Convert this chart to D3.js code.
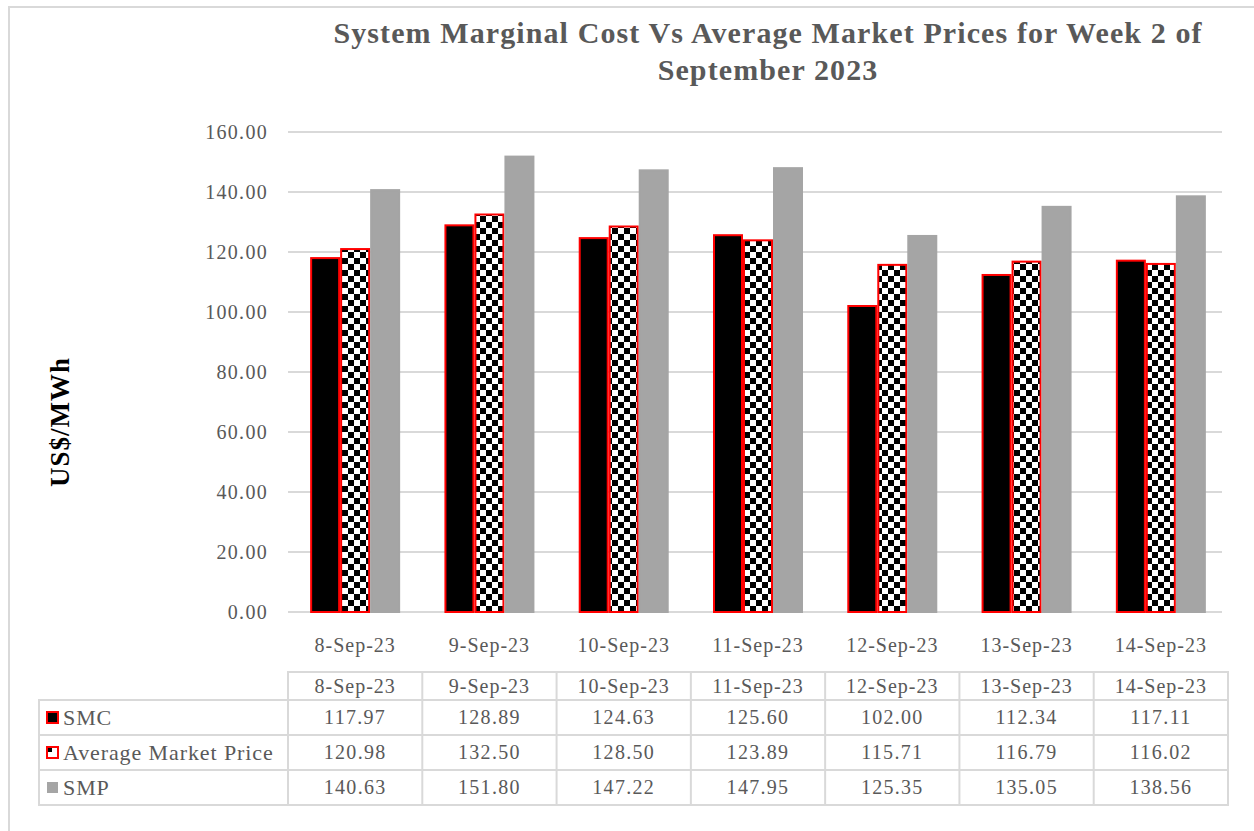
<!DOCTYPE html>
<html>
<head>
<meta charset="utf-8">
<script src="https://cdn.jsdelivr.net/npm/d3@7"></script>
<style>
  body { margin: 0; background: #fff; }
  text { font-family: "Liberation Serif", "DejaVu Serif", serif; }
</style>
</head>
<body>
<div id="container"></div>
<script>
// chart data
var dates = ["8-Sep-23", "9-Sep-23", "10-Sep-23", "11-Sep-23", "12-Sep-23", "13-Sep-23", "14-Sep-23"];
var seriesNames = ["SMC", "Average Market Price", "SMP"];
var smc = [117.97, 128.89, 124.63, 125.60, 102.00, 112.34, 117.11];
var amp = [120.98, 132.50, 128.50, 123.89, 115.71, 116.79, 116.02];
var smp = [140.63, 151.80, 147.22, 147.95, 125.35, 135.05, 138.56];
var yTicks = [0, 20, 40, 60, 80, 100, 120, 140, 160];

var svg_width = 1254
var svg_height = 831

var svg = d3.select("#container")
    .append("svg")
    .attr("width", svg_width)
    .attr("height", svg_height)

// pattern for average market price
var defs = svg.append("defs");
var pat = defs.append("pattern")
    .attr("id", "checker")
    .attr("width", 12).attr("height", 12)
    .attr("patternUnits", "userSpaceOnUse");
pat.append("rect").attr("width", 12).attr("height", 12).attr("fill", "#fff");
pat.append("rect").attr("width", 6).attr("height", 6).attr("fill", "#000");
pat.append("rect").attr("x", 6).attr("y", 6).attr("width", 6).attr("height", 6).attr("fill", "#000");

// outer frame
svg.append("path")
    .attr("d", "M9,831 V7 H1254")
    .attr("fill", "none")
    .attr("stroke", "#d9d9d9")
    .attr("stroke-width", 2);

// title
var title = svg.append("text")
    .attr("text-anchor", "middle")
    .attr("fill", "#595959")
    .attr("font-weight", "bold")
    .attr("font-size", 30)
    .attr("letter-spacing", 1.1);
title.append("tspan").attr("x", 768).attr("y", 43).text("System Marginal Cost Vs Average Market Prices for Week 2 of");
title.append("tspan").attr("x", 768).attr("y", 80).text("September 2023");

var left = 288, right = 1228, plotTop = 132, bottom = 612;

var x = d3.scaleBand()
    .domain(dates)
    .range([left, right]);

var xSub = d3.scaleBand()
    .domain(seriesNames)
    .range([0, 90]);

var y = d3.scaleLinear()
    .domain([0, 160])
    .range([bottom, plotTop]);

// gridlines
svg.append("g")
    .selectAll("line")
    .data(yTicks)
    .enter()
    .append("line")
    .attr("x1", left)
    .attr("x2", right - 6)
    .attr("y1", d => y(d))
    .attr("y2", d => y(d))
    .attr("stroke", "#d9d9d9")
    .attr("stroke-width", 2);

// y labels
var yAxis = d3.axisLeft(y).tickValues(yTicks).tickFormat(d3.format(".2f")).tickSize(0).tickPadding(20);
var gy = svg.append("g").attr("transform", "translate(" + left + ",0)").call(yAxis);
gy.select(".domain").remove();
gy.selectAll("text")
    .attr("font-size", 20)
    .attr("letter-spacing", 1.3)
    .attr("fill", "#595959")
    .attr("font-family", "Liberation Serif, serif");

// bars
var series = [
    { name: "SMC", values: smc, fill: "#000", stroke: "#ff0000" },
    { name: "Average Market Price", values: amp, fill: "url(#checker)", stroke: "#ff0000" },
    { name: "SMP", values: smp, fill: "#a5a5a5", stroke: "#a5a5a5" }
];

var barsG = svg.append("g");
series.forEach(function(s){
    barsG.selectAll(null)
        .data(s.values)
        .enter()
        .append("rect")
        .attr("x", (d, i) => x(dates[i]) + (x.bandwidth() - 90) / 2 + xSub(s.name) + 1)
        .attr("y", d => y(d))
        .attr("width", xSub.bandwidth() - 2)
        .attr("height", d => y(0) - y(d))
        .attr("fill", s.fill)
        .attr("stroke", s.stroke)
        .attr("stroke-width", 2);
});

// x labels
var xAxis = d3.axisBottom(x).tickSize(0).tickPadding(26);
var gx = svg.append("g").attr("transform", "translate(0," + bottom + ")").call(xAxis);
gx.select(".domain").remove();
gx.selectAll("text")
    .attr("font-size", 20)
    .attr("letter-spacing", 1)
    .attr("fill", "#595959")
    .attr("font-family", "Liberation Serif, serif");

// y title
svg.append("text")
    .attr("transform", "translate(69,422) rotate(-90)")
    .attr("text-anchor", "middle")
    .attr("font-size", 27)
    .attr("letter-spacing", 1)
    .attr("font-weight", "bold")
    .attr("fill", "#000")
    .text("US$/MWh");

// data table
var tableLeft = 39, rowTop = 672, headH = 28, rowH = 35;
var tbl = svg.append("g");
var lineColor = "#d9d9d9";

// header row
tbl.append("rect")
    .attr("x", left).attr("y", rowTop)
    .attr("width", right - left).attr("height", headH)
    .attr("fill", "none").attr("stroke", lineColor).attr("stroke-width", 2);
tbl.selectAll(".hdr")
    .data(dates)
    .enter()
    .append("text")
    .attr("x", d => x(d) + x.bandwidth() / 2)
    .attr("y", rowTop + 21)
    .attr("text-anchor", "middle")
    .attr("font-size", 20)
    .attr("letter-spacing", 1)
    .attr("fill", "#595959")
    .text(d => d);

// data rows
series.forEach(function(s, r){
    var ry = rowTop + headH + r * rowH;
    tbl.append("rect")
        .attr("x", tableLeft).attr("y", ry)
        .attr("width", right - tableLeft).attr("height", rowH)
        .attr("fill", "none").attr("stroke", lineColor).attr("stroke-width", 2);
    // legend key
    tbl.append("rect")
        .attr("x", 47).attr("y", ry + 12)
        .attr("width", 11).attr("height", 11)
        .attr("fill", s.name == "Average Market Price" ? "#fff" : s.fill)
        .attr("stroke", s.stroke)
        .attr("stroke-width", s.name == "SMP" ? 0 : 2);
    if (s.name == "Average Market Price") {
        tbl.append("rect")
            .attr("x", 48).attr("y", ry + 13)
            .attr("width", 4).attr("height", 4)
            .attr("fill", "#000");
    }
    tbl.append("text")
        .attr("x", 63).attr("y", ry + 25)
        .attr("font-size", 22)
        .attr("letter-spacing", 0.9)
        .attr("fill", "#595959")
        .text(s.name);
    tbl.selectAll(null)
        .data(s.values)
        .enter()
        .append("text")
        .attr("x", (d, i) => x(dates[i]) + x.bandwidth() / 2)
        .attr("y", ry + 24)
        .attr("text-anchor", "middle")
        .attr("font-size", 20)
        .attr("letter-spacing", 1.3)
        .attr("fill", "#595959")
        .text(d => d.toFixed(2));
});

// vertical separators
var seps = [left].concat(dates.map(d => x(d) + x.bandwidth()));
tbl.selectAll(".vsep")
    .data(seps)
    .enter()
    .append("line")
    .attr("x1", d => d).attr("x2", d => d)
    .attr("y1", rowTop).attr("y2", rowTop + headH + 3 * rowH)
    .attr("stroke", lineColor).attr("stroke-width", 2);
</script>
</body>
</html>
